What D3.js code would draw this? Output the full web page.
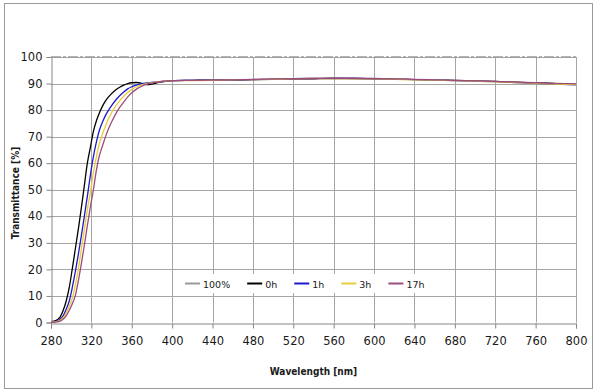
<!DOCTYPE html>
<html><head><meta charset="utf-8">
<script src="https://cdn.jsdelivr.net/npm/d3@7"></script>
<style>
html,body{margin:0;padding:0;background:#fff;}
text{font-family:"DejaVu Sans",Verdana,sans-serif;}
</style></head>
<body><svg id="c" width="600" height="392"></svg>
<script>
// ---- data ----
const wavelengths = [280,283,286,289,292,295,298,301,304,307,310,313,316,319,322,325,328,331,334,337,340,344,348,352,356,360,365,370,375,380,385,390,395,400,
  420,440,460,480,500,520,540,560,580,600,620,640,660,680,700,720,740,760,780,800];
const s100 = wavelengths.map(() => 100);
const s0h = [0.3,0.5,1.0,2.0,4.5,8,13,20,27.5,35,43,51.5,60,66,72,76,79,81.5,83.5,85,86.2,87.6,88.6,89.4,90,90.3,90.4,90.1,89.6,89.8,90.3,90.6,90.9,91.1,
  91.2,91.3,91.3,91.5,91.6,91.7,91.8,91.9,91.9,91.8,91.7,91.5,91.3,91.2,91.0,90.8,90.5,90.3,90.0,89.7];
const s1h = [0.2,0.3,0.6,1.2,2.5,5,8,13,19,25.5,32.5,40,47.5,55.5,62.5,68,72.5,75.5,78,80,81.7,83.7,85.4,86.8,88,88.8,89.5,90,90.2,90.4,90.6,90.8,91,91.1,
  91.2,91.3,91.4,91.5,91.7,91.8,91.9,92.0,91.9,91.8,91.6,91.5,91.3,91.1,90.9,90.7,90.4,90.1,89.8,89.5];
const s3h = [0.2,0.2,0.4,0.8,1.8,3.5,6,9,14,20,27.5,35,42.5,49,56.5,62.5,67.5,71,74,76.8,79,81.5,83.5,85.2,86.6,87.8,88.8,89.5,90,90.3,90.6,90.8,91,91.1,
  91.1,91.2,91.4,91.5,91.6,91.8,91.9,91.9,91.8,91.8,91.6,91.4,91.3,91.1,90.9,90.6,90.4,90.1,89.8,89.6];
const s17h = [0.1,0.1,0.2,0.5,1.2,2.5,4.5,7,10,15.5,22,29,36.5,43.5,50,57.5,63,66.5,70,73,75.5,78.5,81,83,85,86.5,88,89,89.8,90.2,90.5,90.8,91,91.1,
  91.2,91.3,91.4,91.6,91.7,91.8,91.9,92.0,92.0,91.9,91.7,91.6,91.4,91.2,91.0,90.8,90.5,90.3,90.1,89.9];
const seriesNames = ["100%","0h","1h","3h","17h"];
const seriesColors = ["#9a9a9a","#000000","#1a1acc","#e8cc3a","#9c4c7c"];
const seriesValues = [s100,s0h,s1h,s3h,s17h];
const xTicks = [280,320,360,400,440,480,520,560,600,640,680,720,760,800];
const yTicks = [0,10,20,30,40,50,60,70,80,90,100];

// ---- chart ----
const svg = d3.select("#c");
svg.append("rect").attr("x",4.5).attr("y",3.5).attr("width",588).attr("height",385)
  .attr("fill","#fff").attr("stroke","#9a9a9a");

const L=51, R=576, T=57, B=322.5;
const x = d3.scaleLinear().domain([280,800]).range([L,R]);
const y = d3.scaleLinear().domain([0,100]).range([B,T]);

// gridlines
const grid = svg.append("g");
grid.selectAll("line.v").data(xTicks.slice(1)).join("line")
  .attr("x1",d=>Math.round(x(d))+0.5).attr("x2",d=>Math.round(x(d))+0.5)
  .attr("y1",T).attr("y2",B).attr("stroke","#a6a6a6").attr("stroke-width",1);
grid.selectAll("line.h").data(yTicks.slice(1)).join("line")
  .attr("y1",d=>Math.round(y(d))+0.5).attr("y2",d=>Math.round(y(d))+0.5)
  .attr("x1",L).attr("x2",R).attr("stroke","#a6a6a6").attr("stroke-width",1);

// axes
const xAxis = svg.append("g").attr("transform",`translate(0,${Math.round(B)+0.5})`)
  .call(d3.axisBottom(x).tickValues(xTicks).tickSize(5).tickPadding(8).tickFormat(d3.format("d")));
const yAxis = svg.append("g").attr("transform",`translate(${L+0.5},0)`)
  .call(d3.axisLeft(y).tickValues(yTicks).tickSize(5).tickPadding(4).tickFormat(d3.format("d")));
[xAxis,yAxis].forEach(a=>{
  a.select(".domain").attr("stroke","#868686");
  a.selectAll(".tick line").attr("stroke","#868686");
  a.selectAll(".tick text").attr("fill","#1a1a1a").style("font-size","11.5px")
    .style("font-family","'DejaVu Sans',Verdana,sans-serif");
});

// lines
const line = d3.line().x((d,i)=>x(wavelengths[i])).y(d=>y(d)).curve(d3.curveMonotoneX);
const lg = svg.append("g");
seriesValues.forEach((vals,k)=>{
  lg.append("path").datum(vals).attr("d",line).attr("fill","none")
    .attr("stroke",seriesColors[k]).attr("stroke-width",1.3)
    .attr("stroke-dasharray", k===0 ? "10,2,3,2" : null);
});

// legend
const leg = svg.append("g");
leg.append("rect").attr("x",178).attr("y",274).attr("width",256).attr("height",19).attr("fill","#fff");
let lx = 185;
seriesNames.forEach((n,k)=>{
  leg.append("line").attr("x1",lx).attr("x2",lx+15).attr("y1",283.5).attr("y2",283.5)
    .attr("stroke",seriesColors[k]).attr("stroke-width",2);
  const t = leg.append("text").attr("x",lx+18).attr("y",287.5).text(n)
    .attr("fill","#1a1a1a").style("font-size","9.5px");
  lx = lx + 18 + t.node().getComputedTextLength() + 17;
});

// axis titles
const titleFont = "'DejaVu Sans Condensed','Liberation Sans',Arial,sans-serif";
svg.append("text").attr("x",313.5).attr("y",375).attr("text-anchor","middle")
  .style("font-family",titleFont).style("font-size","10px").style("font-weight","bold")
  .attr("fill","#1a1a1a").text("Wavelength [nm]");
svg.append("text").attr("transform","translate(19,193) rotate(-90)").attr("text-anchor","middle")
  .style("font-family",titleFont).style("font-size","10px").style("font-weight","bold")
  .attr("fill","#1a1a1a").text("Transmittance [%]");
</script></body></html>
